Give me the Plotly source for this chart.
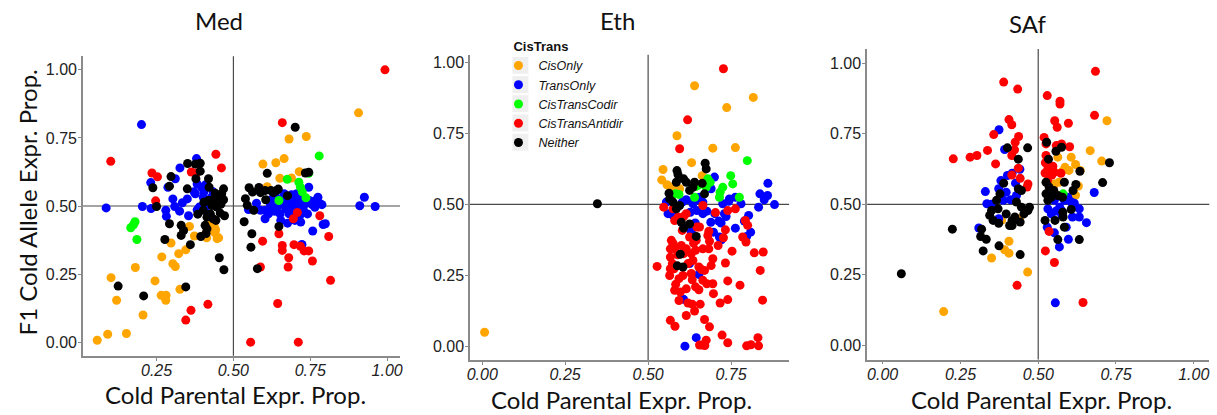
import plotly.graph_objects as go

# ---------------- categories / colours ----------------
categories = ["CisOnly", "TransOnly", "CisTransCodir", "CisTransAntidir", "Neither"]
colors = ["#FFA500", "#0000FF", "#00FF00", "#FF0000", "#000000"]
panels = ["Med", "Eth", "SAf"]
y_ticks = [0.0, 0.25, 0.5, 0.75, 1.0]

# ---------------- Med ----------------
med_cis_x = [0.057,0.091,0.152,0.206,0.102,0.120,0.181,0.245,0.267,0.265,0.281,0.280,0.297,0.303,0.311,0.322,0.326,0.345,0.357,0.373,0.406,0.413,0.419,0.437,0.432,0.442,0.452,0.447,0.440,0.907,0.681,0.737,0.665,0.638,0.596,0.651,0.689,0.714,0.610,0.646]
med_cis_y = [0.007,0.029,0.032,0.100,0.237,0.154,0.274,0.225,0.313,0.172,0.172,0.154,0.364,0.288,0.278,0.325,0.194,0.339,0.425,0.390,0.394,0.383,0.443,0.429,0.410,0.413,0.383,0.380,0.402,0.842,0.746,0.755,0.674,0.659,0.654,0.602,0.603,0.626,0.571,0.523]

med_trans_x = [0.086,0.201,0.204,0.232,0.231,0.280,0.282,0.287,0.303,0.311,0.309,0.325,0.326,0.334,0.350,0.354,0.372,0.376,0.380,0.382,0.389,0.397,0.404,0.410,0.408,0.402,0.415,0.429,0.434,0.410,0.396,0.382,
               0.549,0.575,0.588,0.603,0.603,0.614,0.620,0.626,0.633,0.637,0.646,0.652,0.654,0.659,0.665,0.670,0.674,0.676,0.681,0.683,0.689,0.694,0.697,0.700,0.706,0.708,0.713,0.719,0.721,0.723,0.728,0.734,0.741,0.747,0.745,0.756,0.758,0.764,0.775,0.782,0.788,0.792,0.799,0.911,0.926,0.961,0.662,0.678,0.700,0.716,0.641,0.624,0.727,0.765]
med_trans_y = [0.493,0.799,0.498,0.491,0.586,0.484,0.462,0.569,0.526,0.600,0.498,0.481,0.640,0.512,0.526,0.464,0.552,0.545,0.674,0.581,0.496,0.569,0.551,0.578,0.520,0.532,0.508,0.532,0.552,0.495,0.496,0.486,
               0.487,0.510,0.484,0.484,0.453,0.471,0.508,0.526,0.481,0.535,0.502,0.471,0.447,0.520,0.545,0.490,0.532,0.437,0.471,0.508,0.541,0.484,0.523,0.447,0.545,0.471,0.505,0.441,0.529,0.359,0.484,0.508,0.471,0.520,0.569,0.505,0.408,0.518,0.532,0.508,0.505,0.432,0.435,0.501,0.532,0.498,0.508,0.520,0.496,0.465,0.481,0.490,0.520,0.495]

med_codir_x = [0.166,0.175,0.180,0.186,0.779,0.675,0.713,0.718,0.724,0.736,0.648,0.745]
med_codir_y = [0.420,0.431,0.442,0.377,0.684,0.598,0.587,0.569,0.552,0.530,0.520,0.620]

med_anti_x = [0.101,0.235,0.253,0.247,0.363,0.379,0.443,0.461,0.345,0.362,0.417,0.659,0.556,0.711,0.993,0.781,0.810,0.816,0.757,0.745,0.730,0.718,0.697,0.680,0.678,0.659,0.659,0.648,0.595,0.588,0.644,0.695,0.708]
med_anti_y = [0.664,0.621,0.607,0.519,0.625,0.621,0.690,0.640,0.081,0.117,0.139,0.806,0.000,0.000,1.000,0.464,0.388,0.227,0.298,0.335,0.335,0.352,0.358,0.310,0.276,0.337,0.355,0.398,0.371,0.276,0.142,0.453,0.476]

med_nei_x = [0.125,0.208,0.345,0.238,0.250,0.292,0.297,0.292,0.277,0.330,0.330,0.338,0.351,0.350,0.376,0.378,0.384,0.392,0.392,0.394,0.360,0.404,0.408,0.414,0.419,0.421,0.430,0.436,0.441,0.446,0.452,0.454,0.457,0.462,0.468,0.468,0.469,0.471,0.425,0.434,0.414,0.443,0.402,0.459,0.419,0.411,
             0.535,0.539,0.545,0.551,0.560,0.557,0.562,0.566,0.578,0.583,0.588,0.603,0.610,0.622,0.630,0.640,0.646,0.648,0.676,0.701,0.734,0.745,0.605]
med_nei_y = [0.206,0.170,0.203,0.567,0.498,0.573,0.608,0.435,0.377,0.429,0.392,0.410,0.656,0.563,0.654,0.600,0.470,0.657,0.628,0.388,0.358,0.514,0.429,0.416,0.600,0.569,0.502,0.526,0.547,0.496,0.520,0.310,0.474,0.545,0.563,0.523,0.266,0.464,0.471,0.453,0.459,0.447,0.484,0.506,0.520,0.399,
             0.442,0.527,0.503,0.567,0.398,0.349,0.551,0.484,0.270,0.568,0.549,0.557,0.620,0.557,0.549,0.557,0.562,0.425,0.538,0.789,0.621,0.624,0.523]

# ---------------- Eth ----------------
eth_cis_x = [0.007,0.640,0.817,0.737,0.587,0.695,0.763,0.631,0.545,0.541,0.557,0.571,0.595,0.663]
eth_cis_y = [0.049,0.918,0.877,0.841,0.742,0.698,0.700,0.647,0.623,0.586,0.569,0.560,0.555,0.601]

eth_trans_x = [0.700,0.690,0.655,0.647,0.633,0.615,0.603,0.585,0.560,0.575,0.555,0.627,0.635,0.647,0.665,0.677,0.689,0.697,0.701,0.713,0.720,0.715,0.721,0.725,0.730,0.735,0.743,0.745,0.763,0.763,0.780,0.790,0.797,0.803,0.809,0.833,0.837,0.850,0.860,0.861,0.881,0.642,0.630,0.625,0.653,0.607,0.645,0.611,0.665]
eth_trans_y = [0.596,0.555,0.525,0.516,0.511,0.516,0.508,0.490,0.467,0.461,0.508,0.472,0.502,0.478,0.508,0.476,0.437,0.402,0.467,0.441,0.434,0.385,0.375,0.502,0.467,0.457,0.511,0.519,0.525,0.416,0.502,0.441,0.387,0.461,0.402,0.490,0.537,0.516,0.531,0.574,0.499,0.434,0.404,0.291,0.253,0.165,0.030,0.000,0.467]

eth_codir_x = [0.799,0.749,0.725,0.717,0.715,0.755,0.775,0.680,0.687,0.675,0.643,0.640,0.583,0.573,0.593,0.651]
eth_codir_y = [0.654,0.601,0.560,0.543,0.525,0.572,0.525,0.590,0.578,0.560,0.563,0.525,0.537,0.533,0.535,0.567]

eth_anti_x = [0.727,0.619,0.595,0.547,0.575,0.590,0.580,0.615,0.665,0.703,0.740,0.763,0.793,0.800,0.785,0.795,0.733,0.727,0.680,0.685,0.645,0.637,0.643,0.665,0.683,0.695,0.733,0.753,0.820,0.847,0.838,0.777,0.740,0.695,0.697,0.717,0.740,0.845,
              0.527,0.567,0.575,0.567,0.573,0.567,0.578,0.565,0.583,0.593,0.597,0.607,0.615,0.620,0.605,0.630,0.633,0.643,0.653,0.661,0.670,0.665,0.677,0.653,0.620,0.633,0.640,0.615,0.567,0.581,0.657,0.670,0.685,0.675,0.663,0.671,0.655,0.723,0.740,0.797,0.810,0.831,0.833,
              0.690,0.635,0.625,0.603,0.655,0.615,0.593,0.580,0.570,0.600,0.589,0.580,0.630,0.711,0.683,0.607,0.647]
eth_anti_y = [0.978,0.798,0.696,0.490,0.484,0.455,0.443,0.467,0.496,0.471,0.478,0.484,0.443,0.426,0.385,0.367,0.410,0.382,0.390,0.370,0.373,0.363,0.338,0.343,0.343,0.308,0.293,0.335,0.329,0.332,0.267,0.215,0.230,0.220,0.185,0.152,0.164,0.162,
              0.281,0.343,0.363,0.314,0.291,0.273,0.273,0.249,0.218,0.238,0.191,0.326,0.343,0.291,0.249,0.256,0.234,0.209,0.279,0.270,0.267,0.232,0.220,0.199,0.152,0.148,0.124,0.108,0.091,0.070,0.148,0.094,0.068,0.021,0.004,0.002,0.004,0.039,0.012,0.001,0.005,0.030,0.001,
              0.284,0.302,0.385,0.408,0.420,0.202,0.161,0.197,0.373,0.355,0.322,0.343,0.326,0.355,0.405,0.457,0.420]

eth_nei_x = [0.347,0.587,0.590,0.585,0.563,0.565,0.575,0.607,0.615,0.625,0.640,0.663,0.672,0.675,0.670,0.595,0.600,0.607,0.625,0.645,0.597,0.588,0.605,0.585,0.635]
eth_nei_y = [0.502,0.619,0.605,0.578,0.539,0.519,0.508,0.590,0.578,0.549,0.578,0.574,0.645,0.625,0.537,0.496,0.437,0.416,0.431,0.387,0.324,0.283,0.279,0.484,0.560]

# ---------------- SAf ----------------
saf_cis_x = [0.721,0.667,0.704,0.606,0.620,0.586,0.599,0.575,0.635,0.567,0.552,0.629,0.620,0.563,0.542,0.382,0.406,0.392,0.406,0.350,0.466,0.196,0.440]
saf_cis_y = [0.796,0.690,0.653,0.667,0.641,0.631,0.620,0.614,0.620,0.578,0.572,0.565,0.532,0.667,0.549,0.443,0.369,0.339,0.327,0.310,0.260,0.120,0.449]

saf_trans_x = [0.374,0.392,0.441,0.380,0.401,0.416,0.427,0.373,0.397,0.330,0.335,0.350,0.411,0.388,0.430,0.309,0.373,0.680,0.531,0.542,0.557,0.569,0.576,0.552,0.584,0.595,0.606,0.616,0.632,0.632,0.610,0.655,0.590,0.552,0.597,0.568,0.555,0.529,0.574]
saf_trans_y = [0.764,0.694,0.624,0.584,0.602,0.610,0.575,0.555,0.543,0.545,0.502,0.500,0.516,0.514,0.531,0.416,0.449,0.542,0.484,0.466,0.476,0.490,0.461,0.514,0.514,0.525,0.508,0.504,0.484,0.455,0.455,0.435,0.419,0.399,0.376,0.349,0.151,0.419,0.479]

saf_codir_x = [0.580]
saf_codir_y = [0.537]

saf_anti_x = [0.389,0.434,0.684,0.529,0.570,0.570,0.681,0.406,0.415,0.553,0.561,0.597,0.357,0.437,0.519,0.525,0.426,0.337,0.424,0.558,0.575,0.601,0.227,0.281,0.303,0.363,0.415,0.436,0.525,0.523,0.531,0.522,0.547,0.552,0.544,0.415,0.442,0.467,0.464,0.523,0.552,0.432,0.644,0.535,0.530,0.573]
saf_anti_y = [0.933,0.908,0.971,0.885,0.865,0.855,0.815,0.800,0.782,0.796,0.773,0.787,0.747,0.740,0.737,0.714,0.720,0.691,0.693,0.708,0.714,0.704,0.661,0.667,0.673,0.643,0.673,0.628,0.673,0.647,0.625,0.611,0.635,0.614,0.604,0.604,0.592,0.572,0.561,0.335,0.294,0.213,0.152,0.404,0.584,0.610]

saf_nei_x = [0.060,0.224,0.401,0.466,0.436,0.389,0.377,0.366,0.350,0.344,0.355,0.371,0.373,0.318,0.315,0.333,0.323,0.374,0.442,0.397,0.408,0.416,0.425,0.430,0.436,0.446,0.446,0.454,0.467,0.472,0.442,0.416,
             0.527,0.533,0.557,0.575,0.525,0.525,0.535,0.550,0.563,0.578,0.584,0.579,0.522,0.554,0.580,0.584,0.563,0.606,0.612,0.621,0.632,0.634,0.707,0.729,0.542,0.531]
saf_nei_y = [0.254,0.412,0.700,0.700,0.660,0.575,0.537,0.514,0.478,0.461,0.443,0.484,0.433,0.412,0.386,0.376,0.335,0.353,0.322,0.466,0.425,0.443,0.455,0.508,0.555,0.549,0.490,0.466,0.478,0.490,0.437,0.425,
             0.720,0.660,0.688,0.702,0.578,0.537,0.561,0.549,0.531,0.525,0.578,0.472,0.443,0.443,0.455,0.419,0.375,0.482,0.549,0.570,0.375,0.617,0.577,0.647,0.525,0.514]

panel_data = {
    "Med": [(med_cis_x, med_cis_y), (med_trans_x, med_trans_y), (med_codir_x, med_codir_y), (med_anti_x, med_anti_y), (med_nei_x, med_nei_y)],
    "Eth": [(eth_cis_x, eth_cis_y), (eth_trans_x, eth_trans_y), (eth_codir_x, eth_codir_y), (eth_anti_x, eth_anti_y), (eth_nei_x, eth_nei_y)],
    "SAf": [(saf_cis_x, saf_cis_y), (saf_trans_x, saf_trans_y), (saf_codir_x, saf_codir_y), (saf_anti_x, saf_anti_y), (saf_nei_x, saf_nei_y)],
}

# axis ranges
x_ranges = {"Med": [0.0104, 1.042], "Eth": [-0.037, 0.925], "SAf": [-0.05, 1.05]}
y_ranges = {"Med": [-0.05, 1.05], "Eth": [-0.049, 1.027], "SAf": [-0.05, 1.05]}
x_tickvals = {"Med": [0.25, 0.5, 0.75, 1.0], "Eth": [0.0, 0.25, 0.5, 0.75], "SAf": [0.0, 0.25, 0.5, 0.75, 1.0]}

W, H = 1217, 415
# pixel boxes of panels (left, right, top, bottom)
boxes = {"Med": (80.3, 399, 55.35, 355.65), "Eth": (469.3, 790, 54.0, 359.9), "SAf": (868.4, 1212.3, 48.15, 359.45)}

fig = go.Figure()
for pi, p in enumerate(panels):
    sfx = "" if pi == 0 else str(pi + 1)
    for ci, cat in enumerate(categories):
        xs, ys = panel_data[p][ci]
        fig.add_trace(go.Scatter(
            x=xs, y=ys, mode="markers", name=cat,
            xaxis="x" + sfx, yaxis="y" + sfx,
            marker=dict(color=colors[ci], size=9, line=dict(width=0)),
            showlegend=(pi == 0), legendgroup=cat,
        ))

axis_common = dict(showline=True, linecolor="#8a8a8a", linewidth=1.5, showgrid=False, zeroline=False,
                   ticks="outside", ticklen=3, tickcolor="#8a8a8a", tickwidth=1)
layout = dict(width=W, height=H, margin=dict(l=0, r=0, t=0, b=0), autosize=False,
              paper_bgcolor="white", plot_bgcolor="white")
shapes = []
annotations = []
title_pos = {"Med": (217, 20), "Eth": (618, 20), "SAf": (1030, 23)}
xtitle_pos = {"Med": (234, 394), "Eth": (622, 399), "SAf": (1044, 399)}
text_font = dict(family="Lato", size=24, color="#111")
for pi, p in enumerate(panels):
    sfx = "" if pi == 0 else str(pi + 1)
    l, r, t, b = boxes[p]
    layout["xaxis" + sfx] = dict(axis_common, domain=[l / W, r / W], range=x_ranges[p], anchor="y" + sfx,
                                 tickvals=x_tickvals[p], tickformat=".2f", ticklabelstandoff=-4,
                                 tickfont=dict(family="Liberation Sans", size=16, color="#222", style="italic"))
    layout["yaxis" + sfx] = dict(axis_common, domain=[1 - b / H, 1 - t / H], range=y_ranges[p], anchor="x" + sfx,
                                 tickvals=y_ticks, tickformat=".2f", ticklabelstandoff=-2,
                                 tickfont=dict(family="Liberation Sans", size=16, color="#222"))
    shapes.append(dict(type="line", xref="x" + sfx, yref="y" + sfx + " domain", x0=0.5, x1=0.5, y0=0, y1=1,
                       line=dict(color="#4a4a4a", width=1.2), layer="below"))
    shapes.append(dict(type="line", xref="x" + sfx + " domain", yref="y" + sfx, x0=0, x1=1, y0=0.5, y1=0.5,
                       line=dict(color="#4a4a4a", width=1.2), layer="below"))
    tx, ty = title_pos[p]
    annotations.append(dict(text=p, x=tx / W, y=1 - ty / H, xref="paper", yref="paper", showarrow=False,
                            xanchor="center", yanchor="middle", font=text_font))
    ax_, ay_ = xtitle_pos[p]
    annotations.append(dict(text="Cold Parental Expr. Prop.", x=ax_ / W, y=1 - ay_ / H, xref="paper", yref="paper",
                            showarrow=False, xanchor="center", yanchor="middle", font=text_font))
annotations.append(dict(text="F1 Cold Allele Expr. Prop.", x=25 / W, y=1 - 202 / H, xref="paper", yref="paper",
                        showarrow=False, xanchor="center", yanchor="middle", textangle=-90, font=text_font))

# light grey legend key backgrounds (ggplot style)
key_left, key_right = 511.5, 528.5
key_centers = [64.5, 83.75, 103.0, 122.25, 141.5]
for c in key_centers:
    shapes.append(dict(type="rect", xref="paper", yref="paper", x0=key_left / W, x1=key_right / W,
                       y0=1 - (c + 9.0) / H, y1=1 - (c - 9.0) / H,
                       fillcolor="#EFEFEF", line=dict(color="white", width=1), layer="below"))

layout["shapes"] = shapes
layout["annotations"] = annotations
layout["showlegend"] = True
layout["legend"] = dict(x=511 / W, y=1 - 33 / H, xanchor="left", yanchor="top", bgcolor="rgba(0,0,0,0)",
                        title=dict(text="<b>CisTrans</b>",
                                   font=dict(family="Liberation Sans", size=13, color="#111", style="normal")),
                        font=dict(family="Liberation Sans", size=12.5, color="#111", style="italic"),
                        tracegroupgap=0, indentation=-13)
fig.update_layout(**layout)
fig.write_html("out.html")
